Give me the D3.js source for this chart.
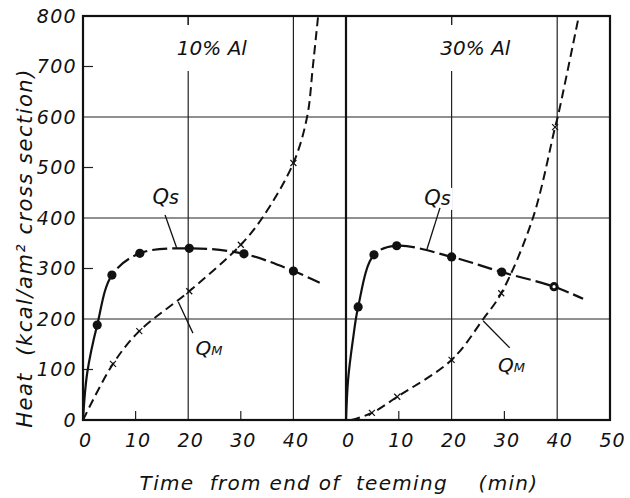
<!DOCTYPE html>
<html>
<head>
<meta charset="utf-8">
<script src="https://cdn.jsdelivr.net/npm/d3@7"></script>
<style>
  body { margin: 0; background: #fff; }
  svg text { font-family: 'DejaVu Sans', sans-serif; font-style: italic; fill: #111; }
</style>
</head>
<body>
<div id="chart"></div>
<script>
// panels
const panelLabels = ['10% Al', '30% Al'];
const xTicksLeft = [0, 10, 20, 30, 40];
const xTicksRight = [0, 10, 20, 30, 40, 50];
const yTicks = [0, 100, 200, 300, 400, 500, 600, 700, 800];

// Qs (dots) and Qm (crosses), 10% Al
const qsTimeL = [2.7, 5.5, 10.8, 20.2, 30.6, 40];
const qsHeatL = [188, 287, 330, 340, 329, 295];
const qmTimeL = [5.7, 10.7, 20.2, 30, 40];
const qmHeatL = [111, 176, 255, 347, 509];

// Qs and Qm, 30% Al
const qsTimeR = [2.3, 5.3, 9.6, 20, 29.5, 39.4];
const qsHeatR = [224, 327, 345, 323, 293, 264];
const qmTimeR = [4.9, 9.7, 20, 29.4, 39.6];
const qmHeatR = [14, 46, 119, 251, 580];

// extra points of the drawn curves
const qsTraceL = [[0, 0], [0.8, 93], [45, 272]];
const qmTraceL = [[0, 0], [34.2, 402], [42.6, 600], [43.7, 700], [44.7, 800]];
const qsTraceR = [[0, 0], [0.4, 80], [1.3, 158], [44.9, 240]];
const qmTraceR = [[1, 0], [26, 200], [35.4, 400], [40.1, 600], [44.1, 800]];

const width = 630;
const height = 498;

const svg = d3.select('#chart').append('svg')
  .attr('width', width)
  .attr('height', height);

const xL = d3.scaleLinear().domain([0, 50]).range([83, 346]);
const xR = d3.scaleLinear().domain([0, 50]).range([346, 610]);
const y = d3.scaleLinear().domain([0, 800]).range([420, 16]);

function zip(xs, ys) {
  return xs.map((d, i) => [d, ys[i]]);
}
function trace(marks, extra) {
  return [...marks, ...extra].sort((a, b) => a[0] - b[0]);
}

const panels = [
  {
    x: xL, label: panelLabels[0], ticks: xTicksLeft,
    qs: zip(qsTimeL, qsHeatL), qm: zip(qmTimeL, qmHeatL),
    qsLine: trace(zip(qsTimeL, qsHeatL), qsTraceL),
    qmLine: trace(zip(qmTimeL, qmHeatL), qmTraceL),
    solidUntil: 5.5, ringLast: false,
    qsLabel: [13.2, 428], qsLead: [[15.6, 406], [17.8, 341]],
    qmLabel: [21.4, 128], qmLead: [[20.9, 172], [18.1, 234]],
  },
  {
    x: xR, label: panelLabels[1], ticks: xTicksRight,
    qs: zip(qsTimeR, qsHeatR), qm: zip(qmTimeR, qmHeatR),
    qsLine: trace(zip(qsTimeR, qsHeatR), qsTraceR),
    qmLine: trace(zip(qmTimeR, qmHeatR), qmTraceR),
    solidUntil: 5.3, ringLast: true,
    qsLabel: [14.8, 426], qsLead: [[17.8, 420], [15.3, 337]],
    qmLabel: [28.8, 96], qmLead: [[31.0, 143], [26.0, 196]],
  },
];

const grid = svg.append('g').attr('stroke', '#222').attr('fill', 'none');

// horizontal rules
grid.selectAll('line.h')
  .data([200, 400, 600])
  .enter()
  .append('line')
  .attr('x1', xL(0)).attr('x2', xR(50))
  .attr('y1', d => y(d)).attr('y2', d => y(d))
  .attr('stroke-width', 1.1);

// y ticks
grid.selectAll('line.yt')
  .data([100, 300, 500, 700])
  .enter()
  .append('line')
  .attr('x1', xL(0)).attr('x2', xL(0) + 10)
  .attr('y1', d => y(d)).attr('y2', d => y(d))
  .attr('stroke-width', 1.2);

const line = d3.line().curve(d3.curveCatmullRom.alpha(0.5));

panels.forEach((p) => {
  const g = svg.append('g');

  // vertical rules
  g.selectAll('line.v')
    .data([20, 40])
    .enter()
    .append('line')
    .attr('x1', d => p.x(d)).attr('x2', d => p.x(d))
    .attr('y1', y(800)).attr('y2', y(0))
    .attr('stroke', '#222')
    .attr('stroke-width', 1.2);

  // short ticks on the bottom
  g.selectAll('line.bt')
    .data([10, 30])
    .enter()
    .append('line')
    .attr('x1', d => p.x(d)).attr('x2', d => p.x(d))
    .attr('y1', y(0)).attr('y2', y(0) - 9)
    .attr('stroke', '#222')
    .attr('stroke-width', 1.2);

  // panel title with white gap behind it
  g.append('rect')
    .attr('x', p.x(25) - 45).attr('y', y(800) + 9)
    .attr('width', 90).attr('height', 46)
    .attr('fill', '#fff');
  g.append('line')
    .attr('x1', p.x(20)).attr('x2', p.x(20))
    .attr('y1', y(800)).attr('y2', y(800) + 9)
    .attr('stroke', '#222').attr('stroke-width', 1.2);
  g.append('text')
    .attr('x', p.x(24.5))
    .attr('y', y(800) + 39)
    .attr('text-anchor', 'middle')
    .attr('font-size', 20)
    .text(p.label);

  // Qm curve
  g.append('path')
    .attr('d', line(p.qmLine.map(d => [p.x(d[0]), y(d[1])])))
    .attr('fill', 'none')
    .attr('stroke', '#111')
    .attr('stroke-width', 2)
    .attr('stroke-dasharray', '9 5');

  // Qs curve: solid start, then long dashes
  const qsPath = g.append('path')
    .attr('d', line(p.qsLine.map(d => [p.x(d[0]), y(d[1])])))
    .attr('fill', 'none')
    .attr('stroke', '#111')
    .attr('stroke-width', 2.2);
  const head = svg.append('path')
    .attr('d', line(p.qsLine.filter(d => d[0] <= p.solidUntil).map(d => [p.x(d[0]), y(d[1])])));
  const solidLen = head.node().getTotalLength() + 4;
  head.remove();
  const total = qsPath.node().getTotalLength();
  const dash = [solidLen];
  for (let l = solidLen; l < total + 40; l += 20) dash.push(5, 15);
  qsPath.attr('stroke-dasharray', dash.join(' '));

  // Qs dots
  g.selectAll('circle.qs')
    .data(p.qs)
    .enter()
    .append('circle')
    .attr('cx', d => p.x(d[0]))
    .attr('cy', d => y(d[1]))
    .attr('r', 4.6)
    .attr('fill', '#111');
  if (p.ringLast) {
    const last = p.qs[p.qs.length - 1];
    g.append('circle')
      .attr('cx', p.x(last[0])).attr('cy', y(last[1]))
      .attr('r', 1.6).attr('fill', '#fff');
  }

  // Qm crosses
  const cross = g.selectAll('g.qm')
    .data(p.qm)
    .enter()
    .append('g')
    .attr('transform', d => `translate(${p.x(d[0])},${y(d[1])})`)
    .attr('stroke', '#111')
    .attr('stroke-width', 1.2);
  cross.append('line').attr('x1', -3).attr('y1', -3).attr('x2', 3).attr('y2', 3);
  cross.append('line').attr('x1', -3).attr('y1', 3).attr('x2', 3).attr('y2', -3);

  // labels with leaders
  const qsText = g.append('text')
    .attr('x', p.x(p.qsLabel[0]))
    .attr('y', y(p.qsLabel[1]))
    .attr('font-size', 21);
  qsText.append('tspan').text('Q');
  qsText.append('tspan').attr('font-size', 19).text('s');
  const bb = qsText.node().getBBox();
  g.insert('rect', 'text')
    .attr('x', bb.x - 2).attr('y', bb.y + 2)
    .attr('width', bb.width + 4).attr('height', bb.height - 2)
    .attr('fill', '#fff');

  const qmText = g.append('text')
    .attr('x', p.x(p.qmLabel[0]))
    .attr('y', y(p.qmLabel[1]))
    .attr('font-size', 20);
  qmText.append('tspan').text('Q');
  qmText.append('tspan').attr('font-size', 13).text('M');

  g.selectAll('line.lead')
    .data([p.qsLead, p.qmLead])
    .enter()
    .append('line')
    .attr('x1', d => p.x(d[0][0])).attr('y1', d => y(d[0][1]))
    .attr('x2', d => p.x(d[1][0])).attr('y2', d => y(d[1][1]))
    .attr('stroke', '#111')
    .attr('stroke-width', 1.3);

  // x tick labels
  const xAxis = d3.axisBottom(p.x)
    .tickValues(p.ticks)
    .tickSize(0)
    .tickPadding(14)
    .tickFormat(d3.format('d'));
  const ax = svg.append('g')
    .attr('transform', `translate(2, ${y(0)})`)
    .call(xAxis);
  ax.select('.domain').remove();
  ax.selectAll('text')
    .attr('font-size', 19)
    .attr('font-family', null)
    .style('letter-spacing', '1px');
});

// y tick labels
const yAxis = d3.axisLeft(y)
  .tickValues(yTicks)
  .tickSize(0)
  .tickPadding(6)
  .tickFormat(d3.format('d'));
const ay = svg.append('g')
  .attr('transform', `translate(${xL(0)}, 0)`)
  .call(yAxis);
ay.select('.domain').remove();
ay.selectAll('text')
  .attr('font-size', 19)
  .attr('font-family', null)
  .style('letter-spacing', '1.3px');

// frame
svg.append('rect')
  .attr('x', xL(0)).attr('y', y(800))
  .attr('width', xR(50) - xL(0)).attr('height', y(0) - y(800))
  .attr('fill', 'none')
  .attr('stroke', '#111')
  .attr('stroke-width', 2.2);
svg.append('line')
  .attr('x1', xR(0)).attr('x2', xR(0))
  .attr('y1', y(800)).attr('y2', y(0))
  .attr('stroke', '#111')
  .attr('stroke-width', 2.2);

// axis titles
svg.append('text')
  .attr('transform', 'translate(32, 248) rotate(-90)')
  .attr('text-anchor', 'middle')
  .attr('font-size', 21)
  .style('letter-spacing', '1.5px')
  .style('white-space', 'pre')
  .text('Heat  (kcal/am² cross section)');

svg.append('text')
  .attr('x', 339)
  .attr('y', 490)
  .attr('text-anchor', 'middle')
  .attr('font-size', 20)
  .style('letter-spacing', '1.3px')
  .style('white-space', 'pre')
  .text('Time  from end of  teeming    (min)');
</script>
</body>
</html>
